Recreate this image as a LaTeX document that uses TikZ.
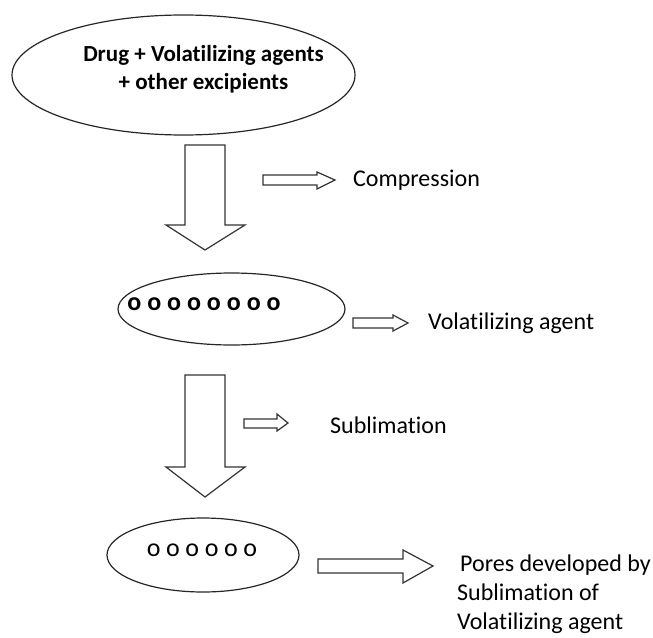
\documentclass[tikz,border=0pt]{standalone}
\usepackage{fontspec}
\setmainfont{Carlito}[Ligatures=NoCommon]
\usetikzlibrary{shapes.geometric}
\begin{document}
\begin{tikzpicture}[x=1pt,y=-1pt,
  oval/.style={draw=black!85,line width=1.2pt,ellipse,inner sep=0pt},
  blockarrow/.style={draw=black!80,line width=1.2pt,fill=white,line join=miter},
  lbl/.style={inner sep=0pt,anchor=west,font=\fontsize{24}{29}\selectfont},
]
\useasboundingbox (0,0) rectangle (653,637);
% ellipses
\node[oval,minimum width=343pt,minimum height=120pt] (e1) at (183.5,75) {};
\node[inner sep=0pt,align=center,font=\fontsize{23}{27.5}\selectfont\bfseries] (t1) at (203.5,69) {Drug + Volatilizing agents\\+ other excipients};
\node[oval,minimum width=227pt,minimum height=72pt] (e2) at (231.5,309) {};
\node[inner sep=0pt,font=\fontsize{26}{28}\selectfont\bfseries] (t2) at (204,304) {o\hspace{5.9pt}o\hspace{5.9pt}o\hspace{5.9pt}o\hspace{5.9pt}o\hspace{5.9pt}o\hspace{5.9pt}o\hspace{5.9pt}o};
\node[oval,minimum width=192pt,minimum height=74pt] (e3) at (203,555) {};
\node[inner sep=0pt,font=\fontsize{26}{28}\selectfont] (t3) at (202,550) {o\hspace{5.6pt}o\hspace{5.6pt}o\hspace{5.6pt}o\hspace{5.6pt}o\hspace{5.6pt}o};
% big down arrows
\draw[blockarrow] (185,145) -- (225,145) -- (225,225) -- (245,225) -- (205,250) -- (166,225) -- (185,225) -- cycle;
\draw[blockarrow] (185,375) -- (225,375) -- (225,467) -- (245,467) -- (205,497) -- (166,467) -- (185,467) -- cycle;
% small right arrows
\draw[blockarrow] (263,175) -- (317,175) -- (317,172) -- (335,180) -- (317,189) -- (317,185) -- (263,185) -- cycle;
\draw[blockarrow] (353,318) -- (393,318) -- (393,315) -- (408,323) -- (393,331) -- (393,328) -- (353,328) -- cycle;
\draw[blockarrow] (244,419) -- (277,419) -- (277,414) -- (288,423) -- (277,431) -- (277,428) -- (244,428) -- cycle;
\draw[blockarrow] (318,559) -- (403,559) -- (403,550) -- (433,566) -- (403,583) -- (403,573) -- (318,573) -- cycle;
% labels
\node[lbl] (l1) at (353,180) {Compression};
\node[lbl] (l2) at (428,323) {Volatilizing agent};
\node[lbl] (l3) at (330,425) {Sublimation};
\node[lbl,align=left] (l4) at (457,594) {\hspace{3pt}Pores developed by\\Sublimation of\\Volatilizing agent};
\end{tikzpicture}
\end{document}
